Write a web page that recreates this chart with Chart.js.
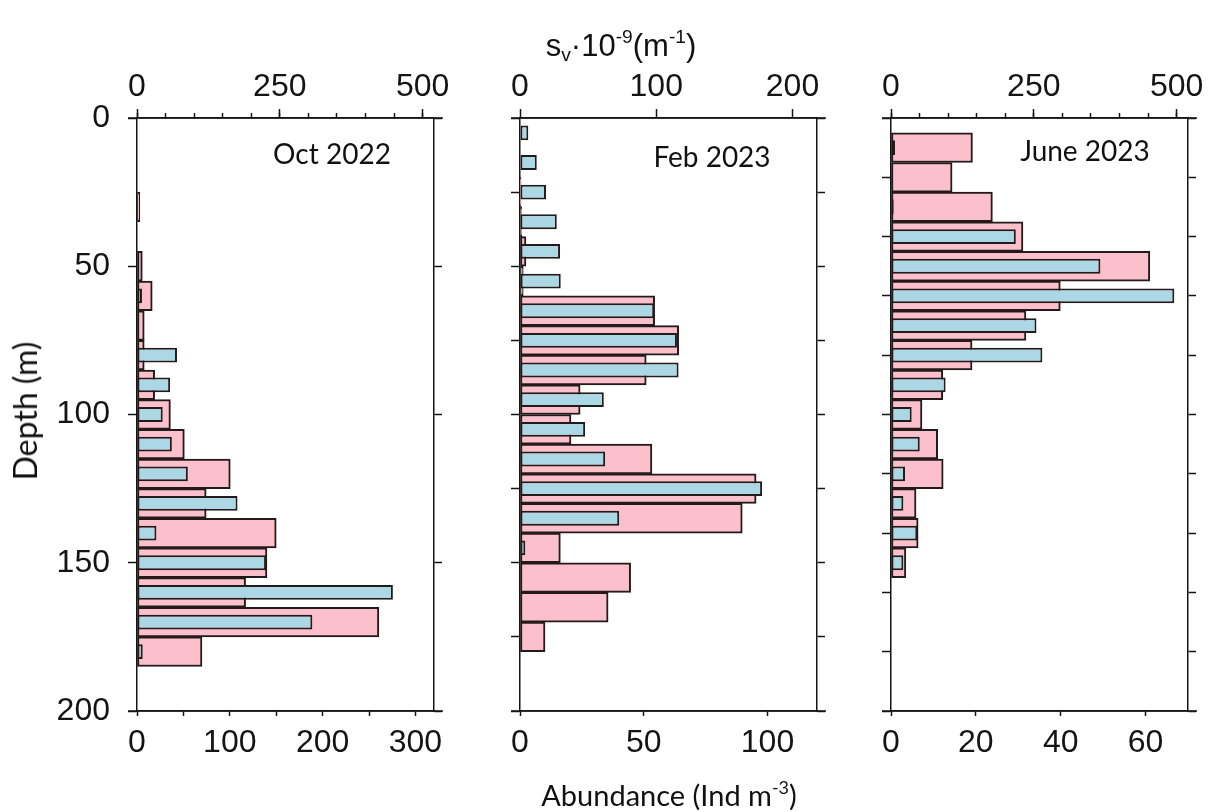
<!DOCTYPE html>
<html>
<head>
<meta charset="utf-8">
<script src="https://cdn.jsdelivr.net/npm/chart.js@4.4.1/dist/chart.umd.min.js"></script>
<style>
  html, body { margin: 0; padding: 0; background: #fff; }
  #wrap { position: relative; width: 1212px; height: 812px; overflow: hidden; background: #fff; }
  #wrap canvas { position: absolute; top: 0; }
  .txt { position: absolute; white-space: nowrap; color: #111; transform: translate(-50%, -50%); line-height: 1; }
  .sans { font-family: "Liberation Sans", Arial, sans-serif; }
  .hum { font-family: Lato, "Open Sans", sans-serif; }
  .txt sup, .txt sub { font-size: 62%; line-height: 0; }
  .txt sup { vertical-align: 0.65em; }
  .txt sub { vertical-align: -0.3em; }
</style>
</head>
<body>
<div id="wrap">
  <canvas id="octChart" width="470" height="812" style="left:0px"></canvas>
  <canvas id="febChart" width="380" height="812" style="left:470px"></canvas>
  <canvas id="junChart" width="362" height="812" style="left:850px"></canvas>

  <div class="txt sans" style="left:621px; top:45px; font-size:31px;">s<sub>v</sub>·10<sup>-9</sup>(m<sup>-1</sup>)</div>
  <div class="txt hum" style="left:669px; top:794px; font-size:29px;">Abundance (Ind m<sup>-3</sup>)</div>
  <div class="txt hum" style="left:25px; top:411px; font-size:32px; transform: translate(-50%, -50%) rotate(-90deg);">Depth (m)</div>

  <div class="txt hum" style="left:332px; top:153px; font-size:28px;">Oct 2022</div>
  <div class="txt hum" style="left:712px; top:156px; font-size:28px;">Feb 2023</div>
  <div class="txt hum" style="left:1085px; top:150px; font-size:28px;">June 2023</div>
</div>

<script>
// ---- Depth profiles: bin centres (m), net abundance (Ind m-3) and acoustic sv (x1e-9 m-1)
const octDepth     = [10, 20, 30, 40, 50, 60, 70, 80, 90, 100, 110, 120, 130, 140, 150, 160, 170, 180, 190];
const octAbundance = [0, 0, 3, 0, 5.7, 16.4, 7.8, 7.8, 19, 36, 51, 100.5, 74.5, 150, 140, 117, 260.6, 70, 0];
const octSv        = [0, 0, 0, 0, 0, 8.7, 3, 70, 58, 45, 61, 89, 176, 34, 226, 448, 307, 10, 0];

const febDepth     = [5, 15, 25, 35, 45, 55, 65, 75, 85, 95, 105, 115, 125, 135, 145, 155, 165, 175, 185];
const febAbundance = [0, 0, 0.4, 0.7, 2.4, 1.3, 54.4, 64.1, 51, 24.3, 20.6, 53.3, 95.4, 89.8, 16.3, 44.7, 35.6, 10.1, 0];
const febSv        = [6.1, 12.3, 19.1, 27, 29.4, 29.9, 98.5, 115.2, 116.4, 61.5, 47.8, 62.5, 177.7, 72.8, 3.9, 0, 0, 0, 0];

const junDepth     = [10, 20, 30, 40, 50, 60, 70, 80, 90, 100, 110, 120, 130, 140, 150];
const junAbundance = [19.2, 14.4, 23.9, 31.1, 61, 39.9, 31.8, 19.1, 12.2, 7.3, 11, 12.3, 5.9, 6.4, 3.5];
const junSv        = [7, 3, 4.7, 218.5, 366.6, 496, 254.7, 265, 95.6, 36.2, 50.3, 24.5, 21.6, 46, 21.6];

// ---- Axis ranges and tick values
const depthRange        = [0, 200];
const octDepthTicks     = [0, 50, 100, 150, 200];
const febDepthTicks     = [0, 25, 50, 75, 100, 125, 150, 175, 200];
const junDepthTicks     = [0, 20, 40, 60, 80, 100, 120, 140, 160, 180, 200];

const octAbundanceRange = [0, 320];
const octAbundanceTicks = [0, 100, 200, 300];
const octAbundanceMinor = [0, 50, 100, 150, 200, 250, 300];
const octSvRange        = [0, 520];
const octSvTicks        = [0, 250, 500];
const octSvMinor        = [0, 50, 100, 150, 200, 250, 300, 350, 400, 450, 500];

const febAbundanceRange = [0, 120];
const febAbundanceTicks = [0, 50, 100];
const febSvRange        = [0, 218];
const febSvTicks        = [0, 100, 200];

const junAbundanceRange = [0, 70];
const junAbundanceTicks = [0, 20, 40, 60];
const junSvRange        = [0, 520];
const junSvTicks        = [0, 250, 500];
const junSvMinor        = [0, 50, 100, 150, 200, 250, 300, 350, 400, 450, 500];

// ---- Shared styling
const INK = '#141414';
const PINK = '#fbc0cb';
const BLUE = '#acd7e5';
const BAR_EDGE = '#231a1a';
const tickFont = { family: '"Liberation Sans", Arial, sans-serif', size: 32 };

function tickGrid(len) {
  return { display: true, drawOnChartArea: false, drawTicks: true, tickLength: len,
           tickColor: INK, tickWidth: 1.5, offset: false };
}
const axisBorder = { display: true, color: INK, width: 1.5 };
const setTicks = arr => scale => { scale.ticks = arr.map(v => ({ value: v })); };

// Extends the top and bottom axis lines a little past the frame
const frameLines = {
  id: 'frameLines',
  afterDraw(chart) {
    const { ctx, chartArea: a } = chart;
    ctx.save();
    ctx.strokeStyle = INK;
    ctx.lineWidth = 1.5;
    ctx.beginPath();
    ctx.moveTo(a.left - 9, a.top); ctx.lineTo(a.right + 9, a.top);
    ctx.moveTo(a.left - 9, a.bottom); ctx.lineTo(a.right + 9, a.bottom);
    ctx.stroke();
    ctx.restore();
  }
};

function makePanel(id, p) {
  const pinkPts = p.depth.map((d, i) => ({ x: p.abundance[i], y: d }));
  const bluePts = p.depth.map((d, i) => ({ x: p.sv[i], y: d }));

  const scales = {
    y: {
      type: 'linear', position: 'left', reverse: true, offset: false,
      min: depthRange[0], max: depthRange[1],
      afterBuildTicks: setTicks(p.depthTicks),
      afterFit: s => { s.width = p.left; },
      grid: tickGrid(9), border: axisBorder,
      ticks: { display: p.depthLabels, padding: 18, font: tickFont, color: INK, autoSkip: false }
    },
    yr: {
      type: 'linear', position: 'right', reverse: true, offset: false,
      min: depthRange[0], max: depthRange[1],
      afterBuildTicks: setTicks(p.depthTicks),
      afterFit: s => { s.width = p.right; },
      grid: tickGrid(8), border: axisBorder,
      ticks: { display: false }
    },
    x: {
      type: 'linear', position: 'bottom', offset: false,
      min: p.abRange[0], max: p.abRange[1],
      afterBuildTicks: setTicks(p.abMinor || p.abTicks),
      afterFit: s => { s.height = 812 - 711; },
      grid: tickGrid(5), border: axisBorder,
      ticks: { padding: 8, font: tickFont, color: INK, autoSkip: false, maxRotation: 0,
               callback: v => p.abTicks.includes(v) ? String(v) : '' }
    },
    x2: {
      type: 'linear', position: 'top', weight: 1, offset: false,
      min: p.svRange[0], max: p.svRange[1],
      afterBuildTicks: setTicks(p.svTicks),
      afterFit: s => { s.height = 118; },
      grid: tickGrid(9), border: axisBorder,
      ticks: { padding: 3, font: tickFont, color: INK, autoSkip: false, maxRotation: 0 }
    }
  };
  if (p.svMinor) {
    scales.x2m = {
      type: 'linear', position: 'top', weight: 0, offset: false,
      min: p.svRange[0], max: p.svRange[1],
      afterBuildTicks: setTicks(p.svMinor),
      afterFit: s => { s.height = 0; },
      grid: tickGrid(5), border: { display: false },
      ticks: { display: false }
    };
  }

  return new Chart(document.getElementById(id), {
    type: 'bar',
    data: {
      datasets: [
        { label: 'sv', data: bluePts, xAxisID: 'x2', yAxisID: 'y', grouped: false, order: 0,
          backgroundColor: BLUE, borderColor: BAR_EDGE, borderWidth: 2, borderSkipped: false,
          categoryPercentage: 1, barPercentage: 0.5 },
        { label: 'Abundance', data: pinkPts, xAxisID: 'x', yAxisID: 'y', grouped: false, order: 1,
          backgroundColor: PINK, borderColor: BAR_EDGE, borderWidth: 2, borderSkipped: false,
          categoryPercentage: 1, barPercentage: 1 }
      ]
    },
    options: {
      indexAxis: 'y',
      responsive: false,
      animation: false,
      devicePixelRatio: 1,
      layout: { padding: 0 },
      plugins: { legend: { display: false }, tooltip: { enabled: false }, title: { display: false } },
      scales
    },
    plugins: [frameLines]
  });
}

makePanel('octChart', {
  depth: octDepth, abundance: octAbundance, sv: octSv,
  depthTicks: octDepthTicks, depthLabels: true, left: 137, right: 36,
  abRange: octAbundanceRange, abTicks: octAbundanceTicks, abMinor: octAbundanceMinor,
  svRange: octSvRange, svTicks: octSvTicks, svMinor: octSvMinor
});
makePanel('febChart', {
  depth: febDepth, abundance: febAbundance, sv: febSv,
  depthTicks: febDepthTicks, depthLabels: false, left: 50, right: 33,
  abRange: febAbundanceRange, abTicks: febAbundanceTicks,
  svRange: febSvRange, svTicks: febSvTicks
});
makePanel('junChart', {
  depth: junDepth, abundance: junAbundance, sv: junSv,
  depthTicks: junDepthTicks, depthLabels: false, left: 41, right: 24,
  abRange: junAbundanceRange, abTicks: junAbundanceTicks,
  svRange: junSvRange, svTicks: junSvTicks, svMinor: junSvMinor
});
</script>
</body>
</html>
